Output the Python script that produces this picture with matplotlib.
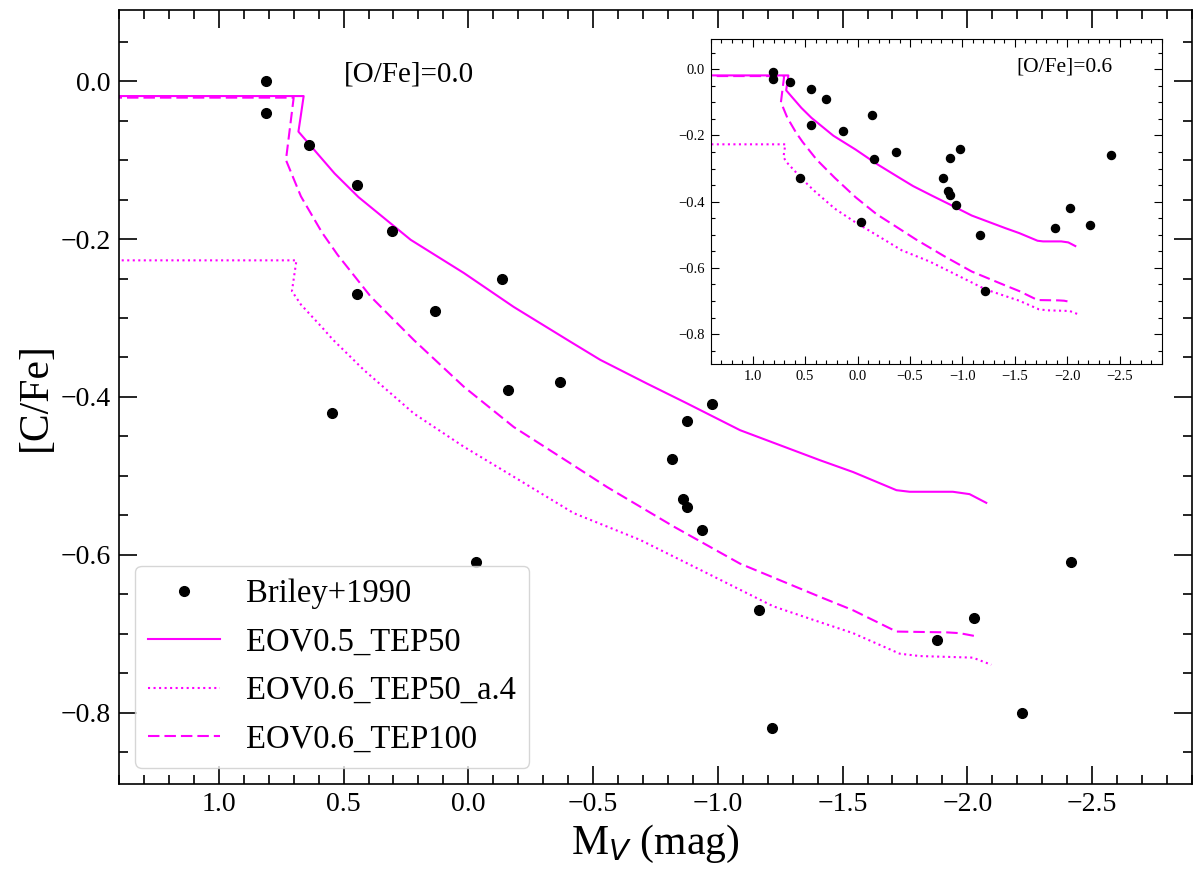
import matplotlib
matplotlib.use("Agg")
import matplotlib.pyplot as plt
from matplotlib.ticker import MultipleLocator

plt.rcParams["font.family"] = ["Liberation Serif", "DejaVu Serif"]

# Briley+1990 stars: M_V and [C/Fe] for [O/Fe]=0.0 and [O/Fe]=0.6
mv = [0.81, 0.81, 0.64, 0.445, 0.305, 0.445, 0.135, 0.545, -0.135, -0.158, -0.366, -0.029,
      -0.818, -0.862, -0.877, -0.878, -0.978, -0.938, -1.166, -1.217, -1.878, -2.028, -2.218, -2.415]
cfe_o00 = [0.00, -0.04, -0.081, -0.131, -0.19, -0.27, -0.291, -0.42, -0.25, -0.391, -0.381, -0.609,
           -0.479, -0.529, -0.43, -0.539, -0.409, -0.569, -0.67, -0.819, -0.708, -0.68, -0.80, -0.609]
cfe_o06 = [-0.009, -0.031, -0.039, -0.06, -0.089, -0.169, -0.188, -0.33, -0.138, -0.27, -0.251, -0.462,
           -0.33, -0.369, -0.269, -0.379, -0.241, -0.41, -0.50, -0.671, -0.481, -0.42, -0.471, -0.26]

# model tracks
solid_mv = [1.50, 0.66, 0.672, 0.681, 0.536, 0.44, 0.231, 0.018, -0.182, -0.409, -0.529, -0.716,
            -0.876, -1.089, -1.409, -1.542, -1.716, -1.769, -1.942, -2.009, -2.076]
solid_cfe = [-0.019, -0.019, -0.045, -0.064, -0.117, -0.147, -0.201, -0.243, -0.286, -0.33, -0.353, -0.383,
             -0.408, -0.442, -0.48, -0.495, -0.518, -0.52, -0.52, -0.523, -0.534]

dot_mv = [1.50, 0.689, 0.707, 0.671, 0.586, 0.544, 0.418, 0.218, 0.018, -0.182, -0.422, -0.689,
          -0.956, -1.222, -1.409, -1.542, -1.729, -1.809, -2.022, -2.096]
dot_cfe = [-0.227, -0.227, -0.266, -0.283, -0.312, -0.327, -0.366, -0.421, -0.463, -0.501, -0.547, -0.581,
           -0.623, -0.665, -0.685, -0.699, -0.725, -0.728, -0.73, -0.739]

dash_mv = [1.50, 0.70, 0.731, 0.671, 0.586, 0.524, 0.391, 0.218, 0.018, -0.182, -0.409, -0.556,
           -0.823, -1.089, -1.409, -1.542, -1.716, -1.916, -1.969, -2.036]
dash_cfe = [-0.021, -0.021, -0.10, -0.146, -0.192, -0.22, -0.273, -0.328, -0.387, -0.438, -0.484, -0.514,
            -0.564, -0.611, -0.653, -0.67, -0.697, -0.698, -0.699, -0.703]

fig = plt.figure(figsize=(12, 8.75), dpi=100)
ax = fig.add_axes([0.0992, 0.104, 0.894, 0.8846])


def draw(a, cfe, ms, lw):
    a.plot(mv, cfe, "o", color="black", ms=ms, label="Briley+1990", zorder=3)
    a.plot(solid_mv, solid_cfe, "-", color="magenta", lw=lw, label="EOV0.5_TEP50")
    a.plot(dot_mv, dot_cfe, ":", color="magenta", lw=lw, label="EOV0.6_TEP50_a.4")
    a.plot(dash_mv, dash_cfe, color="magenta", lw=lw, ls=(0, (5.5, 2.4)), label="EOV0.6_TEP100")
    a.set_xlim(1.4, -2.9)
    a.set_ylim(-0.89, 0.09)
    a.xaxis.set_major_locator(MultipleLocator(0.5))
    a.xaxis.set_minor_locator(MultipleLocator(0.1))
    a.yaxis.set_major_locator(MultipleLocator(0.2))
    a.yaxis.set_minor_locator(MultipleLocator(0.05))


draw(ax, cfe_o00, 7, 1.5)
ax.tick_params(which="both", direction="in", top=True, right=True, labelsize=20, width=1.2)
ax.tick_params(which="major", length=13, pad=6)
ax.tick_params(which="minor", length=6.5)
for s in ax.spines.values():
    s.set_linewidth(1.2)
ax.set_xlabel(r"M$_V$ (mag)", fontsize=30)
ax.set_ylabel("[C/Fe]", fontsize=30)
ax.text(0.21, 0.917, "[O/Fe]=0.0", transform=ax.transAxes, fontsize=21, va="center")
ax.legend(loc="lower left", fontsize=23.5, labelspacing=0.55, handlelength=2.2)

# inset with [O/Fe]=0.6
ins = fig.add_axes([0.5923, 0.584, 0.3758, 0.3711])
draw(ins, cfe_o06, 5.8, 1.5)
ins.tick_params(which="both", direction="in", top=True, right=True, labelsize=10.5, width=0.8)
ins.tick_params(which="major", length=5.5, pad=4)
ins.tick_params(which="minor", length=3)
ins.text(0.678, 0.915, "[O/Fe]=0.6", transform=ins.transAxes, fontsize=15.5, va="center")

fig.savefig("out.png", dpi=100)
